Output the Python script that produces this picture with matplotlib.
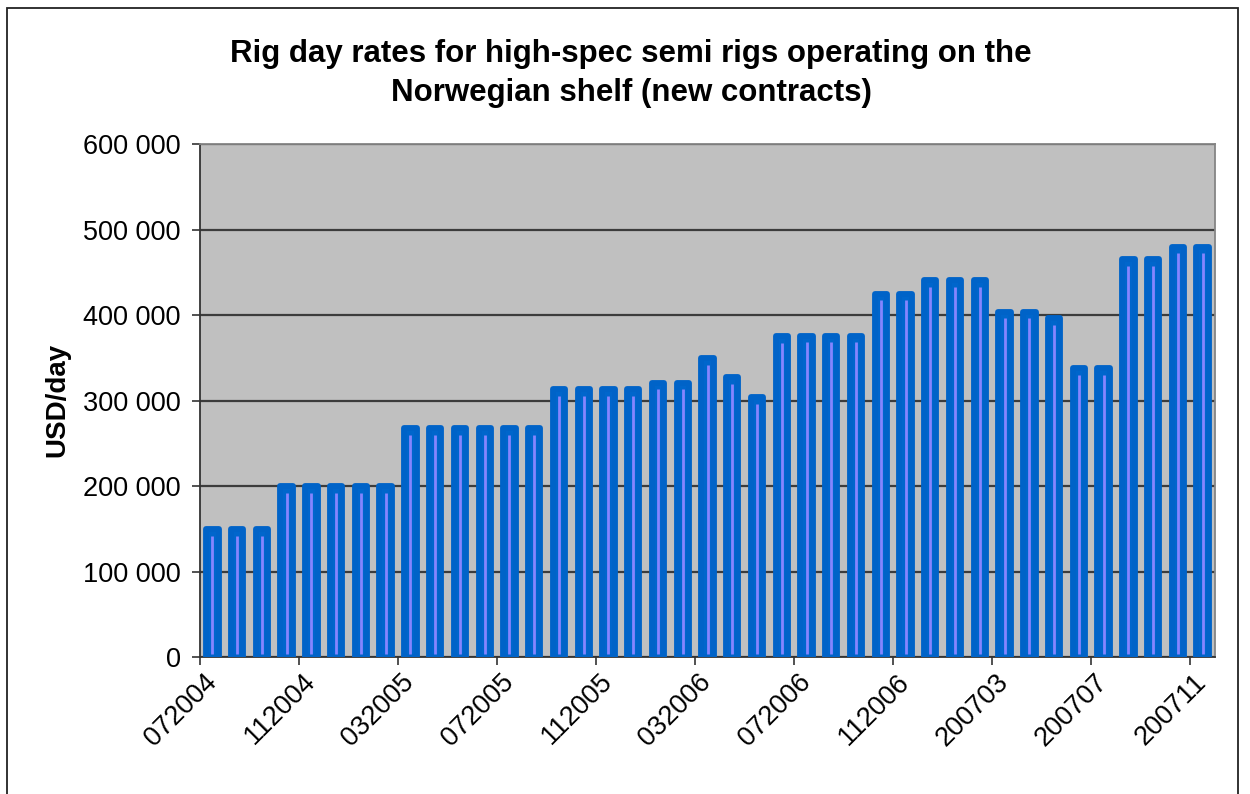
import matplotlib.pyplot as plt
from matplotlib.patches import Rectangle

plt.rcParams['font.family'] = ['Liberation Sans', 'DejaVu Sans']

# contract months, Jul 2004 - Nov 2007
months = ['072004', '082004', '092004', '102004', '112004', '122004',
          '012005', '022005', '032005', '042005', '052005', '062005',
          '072005', '082005', '092005', '102005', '112005', '122005',
          '012006', '022006', '032006', '042006', '052006', '062006',
          '072006', '082006', '092006', '102006', '112006', '122006',
          '200701', '200702', '200703', '200704', '200705', '200706',
          '200707', '200708', '200709', '200710', '200711']

# USD/day
day_rates = [150000, 150000, 150000,
             200000, 200000, 200000, 200000, 200000,
             268000, 268000, 268000, 268000, 268000, 268000,
             313000, 313000, 313000, 313000,
             321000, 321000,
             350000, 327000, 304000, 375000,
             376000, 376000, 376000,
             425000, 425000,
             441000, 441000, 441000,
             404000, 404000, 396000,
             338000, 338000,
             465000, 465000,
             480000, 480000]

y_ticks = [0, 100000, 200000, 300000, 400000, 500000, 600000]
label_step = 4

fig = plt.figure(figsize=(12.5, 7.94), dpi=100)
ax = fig.add_axes([0.16, 0.1725, 0.812, 0.6461])
ax.set_facecolor('#C0C0C0')

x = list(range(len(day_rates)))
bars = ax.bar(x, day_rates, width=0.5, color='#0066CC',
              edgecolor='#0063C8', linewidth=4.2, zorder=3)
for b in bars:
    b.set_joinstyle('round')
# light stripe down the middle of each bar
ax.vlines(x, 4000, [v - 8000 for v in day_rates],
          colors='#8585FF', linewidth=2.0, zorder=4)

ax.set_xlim(-0.5, len(day_rates) - 0.5)
ax.set_ylim(0, 600000)
ax.set_yticks(y_ticks)
ax.set_yticklabels([f'{v:,}'.replace(',', ' ') for v in y_ticks])
ax.yaxis.grid(True, color='#3C3C3C', linewidth=1.6)
ax.set_axisbelow(True)

# tick marks between categories, labels on every 4th category
shown = list(range(0, len(months), label_step))
ax.set_xticks([i - 0.5 for i in shown])
ax.set_xticklabels([])
ax.set_xticks(shown, minor=True)
ax.set_xticklabels([months[i] for i in shown], minor=True,
                   rotation=45, ha='right', va='center',
                   rotation_mode='anchor')
ax.tick_params(axis='x', which='minor', length=0, pad=15, labelsize=19.5)
ax.tick_params(axis='x', which='major', length=6, width=1.2, color='#333333')
ax.tick_params(axis='y', length=6, width=1.2, color='#333333',
               pad=8, labelsize=19.5)

for side in ['left', 'bottom']:
    ax.spines[side].set_color('#333333')
    ax.spines[side].set_linewidth(1.3)
for side in ['top', 'right']:
    ax.spines[side].set_color('#858585')
    ax.spines[side].set_linewidth(1.3)

fig.text(0.505, 0.907,
         'Rig day rates for high-spec semi rigs operating on the\n'
         'Norwegian shelf (new contracts)',
         ha='center', va='center', fontsize=22.5, fontweight='bold',
         linespacing=1.4)
fig.text(0.0456, 0.496, 'USD/day', rotation=90, ha='center', va='center',
         fontsize=20, fontweight='bold')

# outer chart frame
fig.add_artist(Rectangle((0.0055, -0.05), 0.985, 1.04,
                         transform=fig.transFigure, fill=False,
                         edgecolor='#222222', linewidth=1.3))

fig.savefig('out.png', dpi=100)
